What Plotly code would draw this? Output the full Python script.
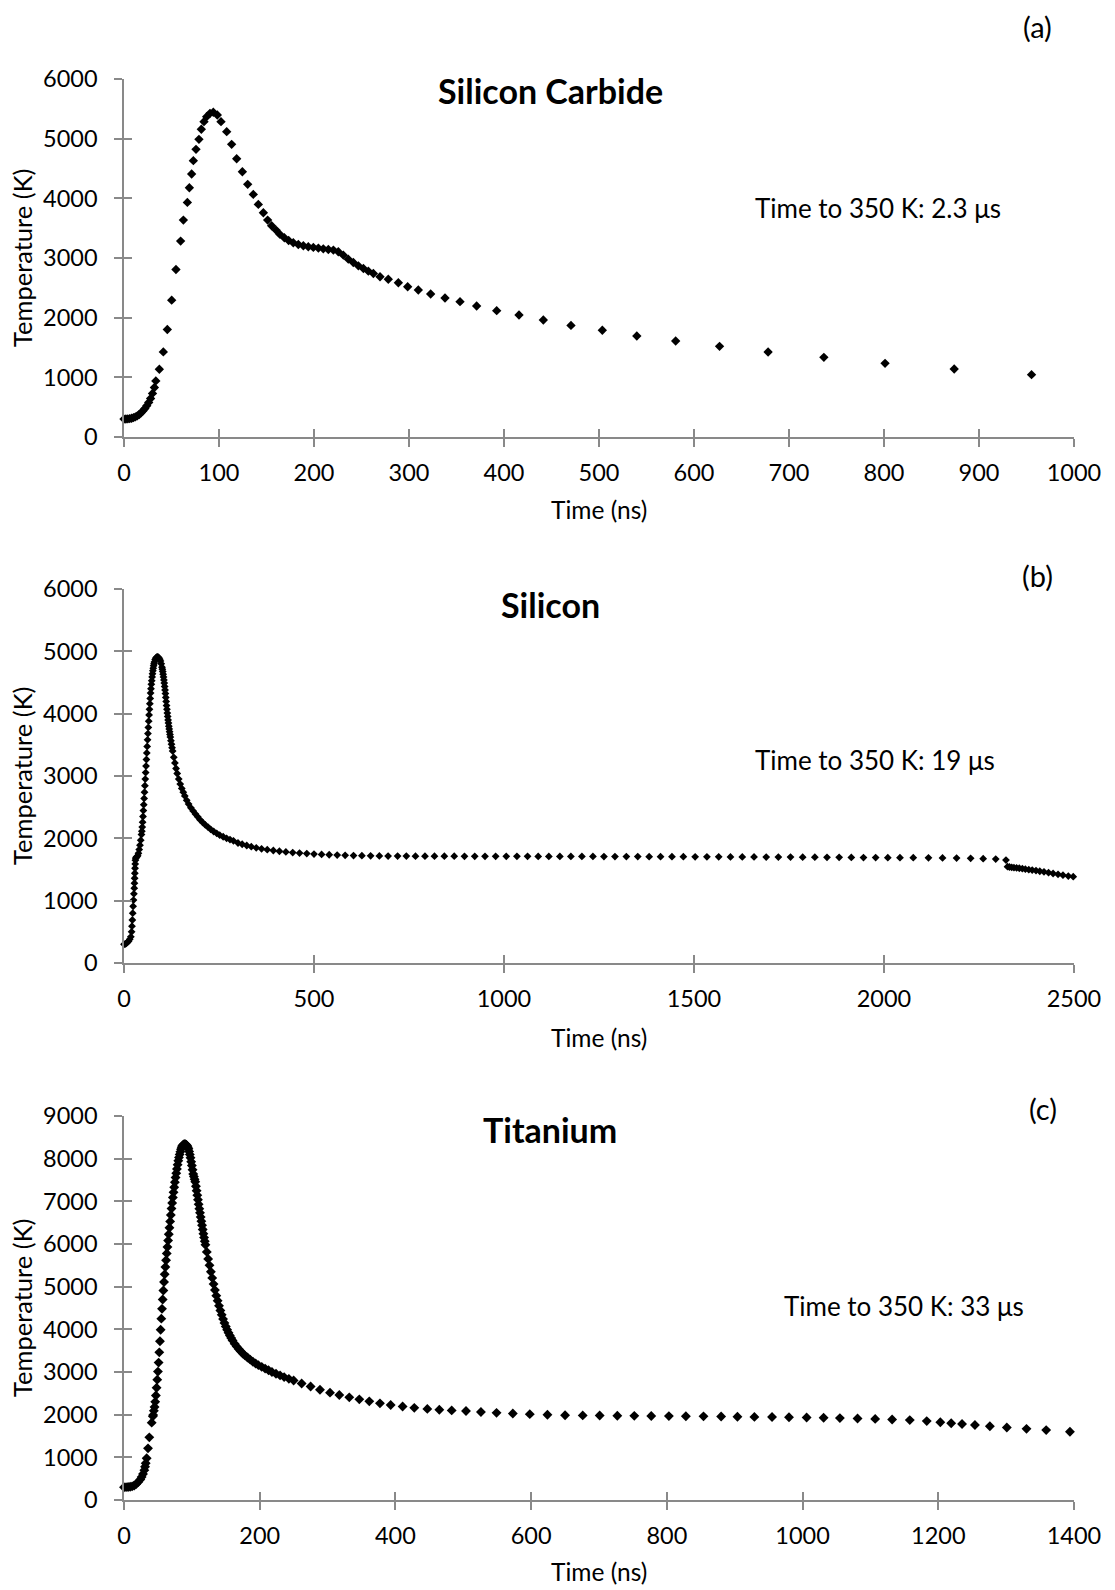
import plotly.graph_objects as go

# ---------------- data ----------------
sic_t = [0, 2, 4, 6, 8, 10, 12, 14, 16, 18, 20, 22, 24, 26, 28, 30, 32, 33.5,
         37.2, 41.4, 45.6, 50.2, 54.7, 59.6, 62.5, 66.7, 68.8, 71.2, 73, 75.8, 78.9,
         81.4, 84.2, 87, 90.5, 94, 98.2, 102.1, 108.1, 113.3, 118.6, 124.6, 130.2,
         136.1, 141.4, 146.7, 151.2, 155.4, 160, 164.2, 168.8, 173.3, 178.2, 183.5,
         188.8, 194, 199.3, 204.6, 209.8, 215.1, 220.4, 225.6, 230.9, 236.1, 241.4,
         246.7, 252, 257.2, 262.5, 269.5, 278.2, 288.8, 298.6, 309.8, 322.8, 337.9,
         353.7, 371.2, 392.3, 415.8, 441.4, 470.5, 503.5, 539.8, 580.7, 626.9, 678,
         736.7, 801.1, 873.9, 955.3]
sic_T = [300, 301, 304, 308, 315, 325, 338, 355, 378, 405, 438, 478, 525, 580, 645,
         730, 830, 940, 1135, 1426, 1801, 2293, 2808, 3283, 3635, 3932, 4178, 4407,
         4631, 4821, 4989, 5157, 5285, 5369, 5425, 5442, 5397, 5285, 5117, 4905, 4664,
         4446, 4234, 4066, 3898, 3758, 3635, 3540, 3468, 3395, 3339, 3294, 3255, 3227,
         3205, 3188, 3177, 3166, 3154, 3143, 3132, 3104, 3048, 2981, 2925, 2869, 2824,
         2780, 2740, 2685, 2643, 2586, 2519, 2464, 2396, 2329, 2268, 2195, 2117, 2045,
         1961, 1870, 1790, 1693, 1609, 1520, 1425, 1335, 1235, 1140, 1045]

si_t = [0, 3, 6, 9, 12, 15, 18, 20, 21, 22, 23, 24, 25, 26, 27, 27.5, 28, 28.5, 29,
        29.5, 30, 31, 32, 34, 36, 38, 40, 42, 44, 46, 47, 48, 49, 50, 51, 52, 53, 54,
        55, 56, 57, 58, 59, 60, 61, 62, 63, 64, 65, 66, 67, 68, 69, 70, 71, 72, 73, 74,
        75, 76, 77, 78, 79, 80, 82, 84, 86, 88, 90, 92, 94, 96, 98, 100, 101, 102, 103,
        104, 105, 106, 107, 108, 109, 110, 111, 112, 113, 114, 115, 116, 117, 118, 119,
        120, 121, 122, 123.5, 125, 126.5, 128, 131, 134, 137,
        140, 144, 148, 152, 156, 160, 165, 170, 176, 182, 188, 194, 200, 207, 214, 221,
        228, 236, 244, 252, 261, 270, 279, 288, 300, 311, 323, 335, 348, 362, 377, 393,
        409, 426, 444, 462, 481, 500, 520, 540, 561, 582, 604, 626, 649, 672, 695, 720,
        743, 767, 792, 817, 843, 869, 896, 923, 950, 978, 1006, 1034, 1062, 1090, 1118,
        1147, 1176, 1205, 1234, 1263, 1292, 1322, 1352, 1382, 1412, 1442, 1472, 1503,
        1534, 1565, 1596, 1627, 1658, 1690, 1722, 1754, 1786, 1818, 1850, 1882, 1914,
        1946, 1978, 2010, 2042, 2077, 2117, 2154, 2191, 2228, 2261, 2294, 2321,
        2325, 2330, 2336, 2342, 2349, 2356, 2364, 2372, 2381, 2390, 2400, 2410, 2421,
        2433, 2445, 2458, 2471, 2485, 2498]
si_T = [300, 305, 315, 330, 350, 380, 420, 500, 590, 690, 800, 910, 1010, 1110, 1200,
        1280, 1360, 1440, 1520, 1590, 1650, 1680, 1695, 1705, 1720, 1760, 1820, 1890,
        1970, 2060, 2115, 2180, 2260, 2350, 2445, 2540, 2640, 2740, 2845, 2950, 3055,
        3160, 3265, 3370, 3475, 3580, 3680, 3780, 3880, 3980, 4070, 4160, 4245, 4330,
        4400, 4470, 4530, 4590, 4640, 4690, 4730, 4770, 4800, 4830, 4870, 4895, 4905,
        4910, 4905, 4895, 4875, 4845, 4800, 4745, 4712, 4675, 4633, 4590, 4542, 4490,
        4437, 4380, 4322, 4260, 4196, 4130, 4070, 4010, 3955, 3900, 3850, 3800, 3755,
        3710, 3667, 3625, 3567, 3510, 3455, 3400, 3300, 3210, 3120,
        3040, 2950, 2870, 2800, 2740, 2680, 2610,
        2550, 2490, 2440, 2390, 2345, 2300, 2255, 2215, 2180, 2145, 2110, 2080, 2050,
        2025, 2000, 1980, 1960, 1925, 1905, 1885, 1866, 1848, 1832, 1818, 1805, 1793,
        1782, 1772, 1763, 1755, 1748, 1742, 1737, 1732, 1728, 1724, 1721, 1719, 1717,
        1716, 1715, 1715, 1714, 1714, 1713, 1713, 1713, 1712, 1712, 1712, 1712, 1711,
        1711, 1711, 1710, 1710, 1710, 1709, 1709, 1709, 1708, 1708, 1707, 1707, 1706,
        1706, 1705, 1705, 1704, 1704, 1703, 1702, 1702, 1701, 1700, 1700, 1699, 1698,
        1697, 1696, 1695, 1694, 1692, 1691, 1690, 1690, 1689, 1688, 1686, 1683, 1679,
        1674, 1668, 1652, 1545, 1540, 1535, 1530, 1525, 1520, 1513, 1505, 1497, 1490,
        1482, 1472, 1462, 1449, 1436, 1423, 1409, 1395, 1385]

ti_t = [0, 3, 6, 9, 12, 15, 18, 21, 24, 26, 28, 30, 31, 32, 33.4, 35.4, 37.3, 40.8,
        42.5, 43, 44, 45, 46, 47, 48, 49, 50, 51, 52, 53, 54, 55, 56, 57, 58, 59, 60,
        61, 62, 63, 64, 65, 66, 67, 68, 69, 70, 71, 72, 73, 74, 75, 76, 77, 78, 79, 80,
        81, 82, 83, 84, 85, 86, 87, 88, 89, 90, 91, 92, 93, 94, 95, 96, 97, 98, 99,
        100, 101, 102, 103, 104, 105, 106, 107, 108, 109, 110, 111, 112, 113, 114, 115,
        116, 117, 118, 119, 120, 122, 124, 126, 128, 130, 132, 134, 136, 138, 140, 142,
        144, 146, 148, 150, 152, 154, 156, 158, 160, 163, 166, 169, 172, 175, 178, 182,
        186, 190, 194, 198, 203, 208, 213, 218, 224, 230, 236, 243, 250, 261.8, 275,
        288.8, 303.6, 317.3, 332, 346.8, 361.5, 377.2, 393, 410.6, 427.8, 447, 464.7,
        482.9, 504, 526, 549, 573, 598, 624, 650, 676, 701, 727, 752, 777, 803, 828,
        854, 880, 904, 929, 955, 980, 1006, 1031, 1055, 1081, 1107, 1132, 1158, 1183,
        1203, 1219, 1235, 1254, 1276, 1301, 1330, 1359, 1394]
ti_T = [300, 301, 304, 310, 320, 340, 375, 420, 480, 540, 610, 700, 780, 860, 977,
        1211, 1469, 1813, 1960, 1990, 2090, 2180, 2300, 2450, 2630, 2820, 3010, 3220,
        3460, 3720, 3990, 4250, 4480, 4700, 4910, 5110, 5290, 5460, 5620, 5780, 5930,
        6080, 6230, 6380, 6530, 6680, 6830, 6960, 7090, 7210, 7330, 7450, 7560, 7660,
        7760, 7860, 7950, 8030, 8100, 8160, 8220, 8270, 8300, 8320, 8335, 8340, 8340,
        8335, 8320, 8300, 8270, 8230, 8170, 8100, 8020, 7930, 7840, 7740, 7640, 7580,
        7520, 7460, 7355, 7250, 7145, 7040, 6930, 6825, 6730, 6630, 6535, 6440, 6340,
        6240, 6150, 6065, 5980, 5815, 5650, 5500, 5350, 5205, 5060, 4920, 4790, 4670,
        4550, 4440, 4340, 4240, 4150, 4065, 3990, 3920, 3855, 3795, 3740, 3665, 3600,
        3540, 3485, 3435, 3390, 3340, 3290, 3240, 3200, 3160, 3120, 3080, 3040, 3000,
        2960, 2920, 2880, 2840, 2800, 2730, 2660, 2585, 2516, 2461, 2406, 2359, 2312,
        2266, 2227, 2190, 2160, 2135, 2115, 2100, 2085, 2062, 2043, 2027, 2012, 1998,
        1985, 1982, 1979, 1976, 1973, 1970, 1967, 1964, 1960, 1956, 1952, 1948, 1944,
        1939, 1933, 1927, 1920, 1911, 1900, 1888, 1873, 1850, 1822, 1800, 1780, 1757,
        1730, 1700, 1668, 1638, 1600]

assert len(sic_t) == len(sic_T) and len(si_t) == len(si_T) and len(ti_t) == len(ti_T)

panels = [
    dict(t=sic_t, T=sic_T, title="Silicon Carbide", label="(a)",
         note="Time to 350 K: 2.3 μs", xmax=1000, xdtick=100, ymax=6000, msize=7.2),
    dict(t=si_t, T=si_T, title="Silicon", label="(b)",
         note="Time to 350 K: 19 μs", xmax=2500, xdtick=500, ymax=6000, msize=6),
    dict(t=ti_t, T=ti_T, title="Titanium", label="(c)",
         note="Time to 350 K: 33 μs", xmax=1400, xdtick=200, ymax=9000, msize=7.6),
]

# ---------------- layout geometry (pixels) ----------------
W, H = 1115, 1590
PX_L, PX_R = 124, 1074
plot_tops = [79, 589, 1116]
plot_bots = [437, 963, 1500]
label_pos = [(1037, 27), (1037, 576), (1043, 1108)]
title_pos = [(550, 91), (550, 604), (550, 1129)]
note_pos = [(878, 208), (875, 760), (904, 1306)]
xtitle_y = [510, 1037, 1571]

FONT = "Lato, 'Open Sans', sans-serif"
AX_COL = "#898989"


def px(x):
    return x / W


def py(y):
    return 1 - y / H


fig = go.Figure()
annotations = []
layout = {}

for i, p in enumerate(panels):
    n = i + 1
    xa = "x" if n == 1 else f"x{n}"
    ya = "y" if n == 1 else f"y{n}"
    xo, yo = f"x{n + 3}", f"y{n + 3}"
    fig.add_trace(go.Scatter(
        x=p["t"], y=p["T"], mode="markers", xaxis=xa, yaxis=ya,
        marker=dict(symbol="diamond", size=p["msize"], color="black", line=dict(width=0)),
        cliponaxis=False, showlegend=False, hoverinfo="x+y"))
    fig.add_trace(go.Scatter(x=[None], y=[None], xaxis=xo, yaxis=yo,
                             showlegend=False, hoverinfo="skip"))
    xdom = [px(PX_L), px(PX_R)]
    ydom = [py(plot_bots[i]), py(plot_tops[i])]
    common = dict(showgrid=False, zeroline=False, fixedrange=True)
    layout[f"xaxis{n if n > 1 else ''}"] = dict(
        domain=xdom, anchor=ya, range=[0, p["xmax"]], dtick=p["xdtick"], tick0=0,
        showline=True, linecolor=AX_COL, linewidth=1.5, ticks="outside", ticklen=8,
        tickwidth=1.5, tickcolor=AX_COL, ticklabelstandoff=6,
        tickfont=dict(family=FONT, size=23.5, color="black"), automargin=False, **common)
    layout[f"yaxis{n if n > 1 else ''}"] = dict(
        domain=ydom, anchor=xa, range=[0, p["ymax"]], dtick=1000, tick0=0,
        showline=True, linecolor=AX_COL, linewidth=1.5, ticks="outside", ticklen=8,
        tickwidth=1.5, tickcolor=AX_COL, ticklabelstandoff=12,
        tickfont=dict(family=FONT, size=23.5, color="black"), automargin=False, **common)
    # overlay axes giving the inner half of the crossing tick marks
    layout[f"xaxis{n + 3}"] = dict(
        domain=xdom, anchor=ya, overlaying=xa, range=[0, p["xmax"]], dtick=p["xdtick"],
        tick0=0, showline=False, ticks="inside", ticklen=8, tickwidth=1.5,
        tickcolor=AX_COL, showticklabels=False, **common)
    layout[f"yaxis{n + 3}"] = dict(
        domain=ydom, anchor=xa, overlaying=ya, range=[0, p["ymax"]], dtick=1000,
        tick0=0, showline=False, ticks="inside", ticklen=8, tickwidth=1.5,
        tickcolor=AX_COL, showticklabels=False, **common)

    annotations += [
        dict(text=p["label"], x=px(label_pos[i][0]), y=py(label_pos[i][1]),
             font=dict(family=FONT, size=29, color="black")),
        dict(text=f"<b>{p['title']}</b>", x=px(title_pos[i][0]), y=py(title_pos[i][1]),
             font=dict(family=FONT, size=34, color="black")),
        dict(text=p["note"], x=px(note_pos[i][0]), y=py(note_pos[i][1]),
             font=dict(family=FONT, size=26, color="black")),
        dict(text="Time (ns)", x=px((PX_L + PX_R) / 2), y=py(xtitle_y[i]),
             font=dict(family=FONT, size=24.5, color="black")),
        dict(text="Temperature (K)", x=px(22), y=py((plot_tops[i] + plot_bots[i]) / 2),
             textangle=-90, font=dict(family=FONT, size=25.5, color="black")),
    ]

for a in annotations:
    a.update(xref="paper", yref="paper", showarrow=False,
             xanchor="center", yanchor="middle")

fig.update_layout(
    width=W, height=H, margin=dict(l=0, r=0, t=0, b=0),
    paper_bgcolor="white", plot_bgcolor="white",
    annotations=annotations, **layout)

fig.write_html("out.html")
